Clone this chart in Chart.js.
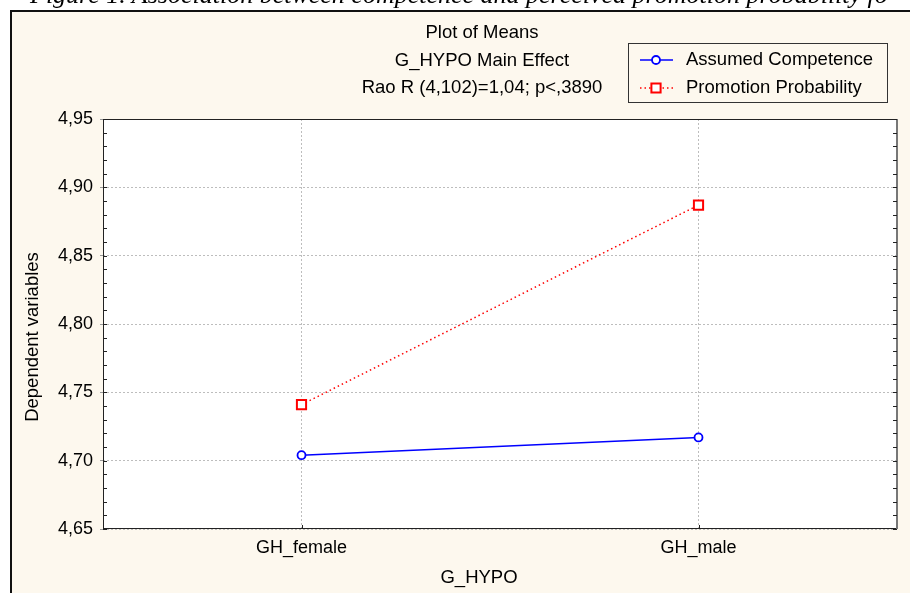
<!DOCTYPE html>
<html><head><meta charset="utf-8">
<script src="https://cdn.jsdelivr.net/npm/chart.js@4.4.0/dist/chart.umd.min.js"></script>
<style>
html,body{margin:0;padding:0;background:#fff;width:910px;height:593px;overflow:hidden;}
#wrap{position:absolute;left:0;top:0;width:910px;height:593px;}
#cap{position:absolute;left:0;top:0;width:910px;height:10px;overflow:hidden;}
#cap span{position:absolute;left:30px;top:-18px;font:italic 26px/26px "Liberation Serif";white-space:nowrap;color:#000;}
</style></head><body>
<div id="wrap"><canvas id="c" width="910" height="593"></canvas></div>
<div id="cap"><span>Figure 1. Association between competence and perceived promotion probability fo</span></div>
<script>
const categories = ['GH_female', 'GH_male'];
const assumedCompetence = [4.704, 4.717];
const promotionProbability = [4.741, 4.887];
const yTicks = [4.65, 4.70, 4.75, 4.80, 4.85, 4.90, 4.95];
const seriesNames = ['Assumed Competence', 'Promotion Probability'];
const titleLines = ['Plot of Means', 'G_HYPO Main Effect', 'Rao R (4,102)=1,04; p<,3890'];
const xTitle = 'G_HYPO';
const yTitle = 'Dependent variables';

const FAMILY = '"Liberation Sans", Arial, sans-serif';
const FONT = '18.5px ' + FAMILY;
const BEIGE = '#fdf8ee';

const framePlugin = {
  id: 'frame',
  beforeDraw(chart) {
    const ctx = chart.ctx, a = chart.chartArea;
    ctx.save();
    ctx.fillStyle = '#fff';
    ctx.fillRect(0, 0, chart.width, chart.height);
    ctx.fillStyle = BEIGE;
    ctx.fillRect(10, 10, chart.width - 10, chart.height - 10);
    ctx.fillStyle = '#fff';
    ctx.fillRect(a.left, a.top, a.right - a.left, a.bottom - a.top);
    ctx.strokeStyle = '#111';
    ctx.lineWidth = 2;
    ctx.beginPath();
    ctx.moveTo(11, chart.height); ctx.lineTo(11, 11); ctx.lineTo(chart.width, 11);
    ctx.stroke();
    ctx.restore();
  },
  afterDraw(chart) {
    const ctx = chart.ctx, a = chart.chartArea;
    const ys = chart.scales.y, xs = chart.scales.x;
    ctx.save();
    // plot frame
    ctx.strokeStyle = '#222';
    ctx.lineWidth = 1;
    ctx.strokeRect(a.left + 0.5, a.top + 0.5, a.right - a.left - 1, a.bottom - a.top - 1);
    ctx.strokeStyle = '#777';
    ctx.lineWidth = 2;
    ctx.beginPath(); ctx.moveTo(a.right, a.top); ctx.lineTo(a.right, a.bottom); ctx.stroke();
    // minor ticks (inward)
    ctx.strokeStyle = '#222';
    ctx.lineWidth = 1;
    ctx.beginPath();
    for (let i = 0; i <= 30; i++) {
      const v = ys.min + i * (ys.max - ys.min) / 30;
      const py = Math.round(ys.getPixelForValue(v)) + 0.5;
      ctx.moveTo(a.left, py); ctx.lineTo(a.left + 4, py);
      ctx.moveTo(a.right - 4, py); ctx.lineTo(a.right, py);
    }
    for (let i = 0; i < categories.length; i++) {
      const px = Math.round(xs.getPixelForTick(i)) + 0.5;
      ctx.moveTo(px, a.bottom); ctx.lineTo(px, a.bottom - 4);
    }
    ctx.stroke();
    // header titles
    ctx.fillStyle = '#000';
    ctx.font = FONT;
    ctx.textAlign = 'center';
    ctx.textBaseline = 'middle';
    titleLines.forEach((t, i) => ctx.fillText(t, 482, 33 + i * 27.5));
    // axis titles
    ctx.fillText(xTitle, 479, 578);
    ctx.save();
    ctx.translate(33, 337);
    ctx.rotate(-Math.PI / 2);
    ctx.fillText(yTitle, 0, 0);
    ctx.restore();
    // legend
    ctx.strokeStyle = '#333';
    ctx.lineWidth = 1;
    ctx.strokeRect(628.5, 43.5, 259, 59);
    chart.data.datasets.forEach((ds, i) => {
      const y = 60 + i * 28;
      ctx.save();
      ctx.strokeStyle = ds.borderColor;
      ctx.lineWidth = ds.borderWidth;
      ctx.setLineDash(ds.borderDash || []);
      ctx.beginPath(); ctx.moveTo(640, y); ctx.lineTo(673, y); ctx.stroke();
      ctx.setLineDash([]);
      ctx.fillStyle = '#fff';
      ctx.lineWidth = ds.pointBorderWidth;
      Chart.helpers.drawPoint(ctx, {pointStyle: ds.pointStyle, radius: ds.pointRadius, borderWidth: ds.pointBorderWidth, rotation: 0}, 656, y);
      ctx.restore();
      ctx.fillStyle = '#000';
      ctx.textAlign = 'left';
      ctx.fillText(ds.label, 686, y);
    });
    ctx.restore();
  }
};

new Chart(document.getElementById('c'), {
  type: 'line',
  data: {
    labels: categories,
    datasets: [
      {label: seriesNames[0], data: assumedCompetence, borderColor: '#0000ff', borderWidth: 1.5,
       pointStyle: 'circle', pointRadius: 4, pointBorderWidth: 1.8, pointBorderColor: '#0000ff', pointBackgroundColor: '#fff', tension: 0},
      {label: seriesNames[1], data: promotionProbability, borderColor: '#ff0000', borderWidth: 1.5, borderDash: [1.5, 3],
       pointStyle: 'rect', pointRadius: 6.5, pointBorderWidth: 2, pointBorderColor: '#ff0000', pointBackgroundColor: '#fff', tension: 0}
    ]
  },
  options: {
    responsive: false, animation: false, devicePixelRatio: 1,
    layout: {padding: {top: 119, right: 13, left: 0, bottom: 0}},
    plugins: {legend: {display: false}, title: {display: false}, tooltip: {enabled: false}},
    scales: {
      x: {
        type: 'category', offset: true,
        grid: {offset: false, color: '#bdbdbd', lineWidth: 1, drawTicks: false},
        border: {display: false, dash: [2, 2]},
        ticks: {font: {family: FAMILY, size: 18}, color: '#000', padding: 8, maxRotation: 0},
        afterFit(s) { s.height = 64; }
      },
      y: {
        min: yTicks[0], max: yTicks[yTicks.length - 1],
        afterBuildTicks(s) { s.ticks = yTicks.map(v => ({value: v})); },
        grid: {color: '#bdbdbd', lineWidth: 1, tickLength: 3, tickColor: '#999'},
        border: {display: false, dash: [2, 2]},
        ticks: {font: {family: FAMILY, size: 18}, color: '#000', padding: 7,
                callback: v => Number(v).toFixed(2).replace('.', ',')},
        afterFit(s) { s.width = 103; }
      }
    }
  },
  plugins: [framePlugin]
});
</script>
</body></html>
